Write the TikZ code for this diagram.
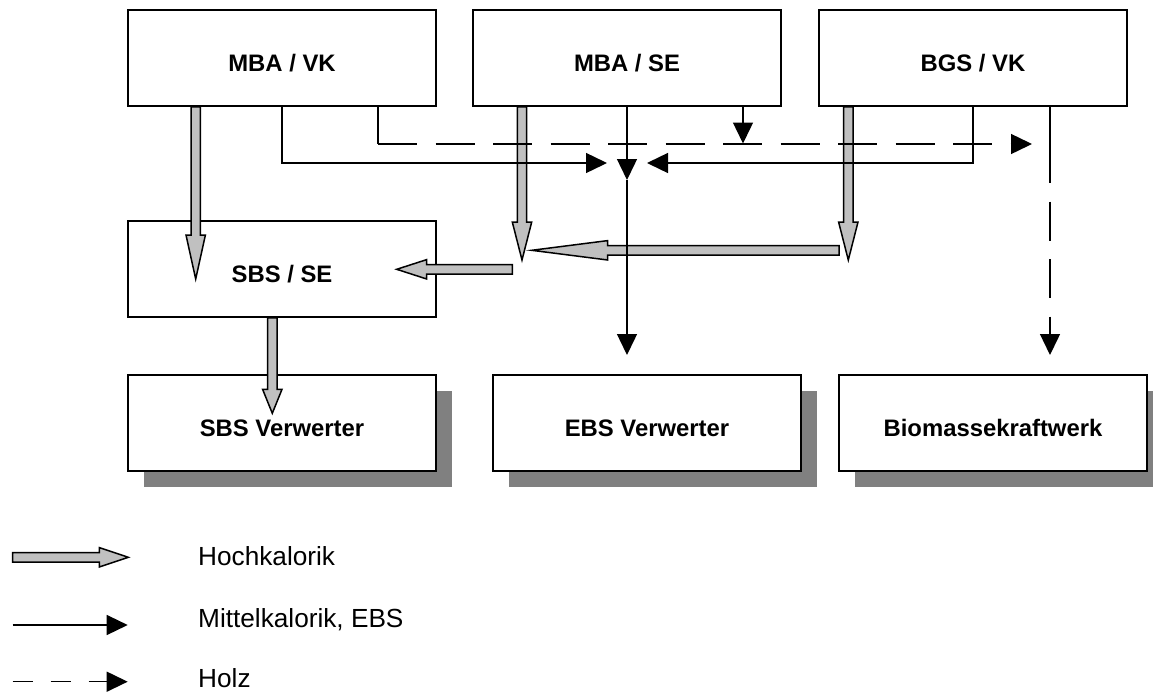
\documentclass[tikz,border=0pt]{standalone}
\usepackage{fontspec}
\setmainfont{Liberation Sans}
\usetikzlibrary{arrows.meta,calc,shadows}

\definecolor{hkgrau}{RGB}{192,192,192}
\definecolor{schatten}{RGB}{128,128,128}

\tikzset{
  anlage/.style={draw, line width=1.8pt, fill=white, minimum width=308pt,
    minimum height=96pt, inner sep=0pt, text height=27pt, text depth=0pt,
    font=\fontsize{23.85}{28}\selectfont\bfseries},
  verwerter/.style={anlage, drop shadow={shadow xshift=16pt, shadow yshift=-16pt,
    opacity=1, fill=schatten}},
  mkpfeil/.style={line width=1.4pt, -{Triangle[length=21pt,width=20pt]}},
  holzpfeil/.style={mkpfeil, dash pattern=on 39pt off 18.5pt},
  hkpfeil/.style={draw, line width=1.5pt, fill=hkgrau, line join=miter},
  legende/.style={anchor=base west, inner sep=0pt, font=\fontsize{26.2}{30}\selectfont}
}

% gray block arrow: start, tip, head length
\newcommand{\hochpfeil}[3]{%
  \draw[hkpfeil] let \p1=(#1), \p2=(#2),
      \n1={veclen(\x2-\x1,\y2-\y1)},
      \n2={(\x2-\x1)/\n1}, \n3={(\y2-\y1)/\n1} in
    ({\x1-4.7pt*(\n3)},{\y1+4.7pt*(\n2)})
    -- ({\x2-#3pt*(\n2)-4.7pt*(\n3)},{\y2-#3pt*(\n3)+4.7pt*(\n2)})
    -- ({\x2-#3pt*(\n2)-9.7pt*(\n3)},{\y2-#3pt*(\n3)+9.7pt*(\n2)})
    -- (\x2,\y2)
    -- ({\x2-#3pt*(\n2)+9.7pt*(\n3)},{\y2-#3pt*(\n3)-9.7pt*(\n2)})
    -- ({\x2-#3pt*(\n2)+4.7pt*(\n3)},{\y2-#3pt*(\n3)-4.7pt*(\n2)})
    -- ({\x1+4.7pt*(\n3)},{\y1-4.7pt*(\n2)}) -- cycle;}

\begin{document}
\begin{tikzpicture}[x=1pt, y=-1pt]
  \useasboundingbox (0,0) rectangle (1153,691);

  % Anlagen
  \node[anlage] (mbavk) at (282,58) {MBA / VK};
  \node[anlage] (mbase) at (627,58) {MBA / SE};
  \node[anlage] (bgsvk) at (973,58) {BGS / VK};
  \node[anlage] (sbsse) at (282,269) {SBS / SE};

  % Verwerter
  \node[verwerter] (sbsverw) at (282,423) {SBS Verwerter};
  \node[verwerter] (ebsverw) at (647,423) {EBS Verwerter};
  \node[verwerter] (biokw) at (993,423) {Biomassekraftwerk};

  % Punkte
  \coordinate (hkvk) at (195.7,279);
  \coordinate (hkse) at (522,260);
  \coordinate (hkbgs) at (848.3,260);
  \coordinate (langA) at (839,250.3);
  \coordinate (langB) at (531.7,250.3);
  \coordinate (kurzA) at (512.3,269.3);
  \coordinate (kurzB) at (396.7,269.3);
  \coordinate (sbsab) at (272.3,413.3);
  \coordinate (mklinks) at (607,163);
  \coordinate (mkrechts) at (647,163);
  \coordinate (sammel) at (627,180);
  \coordinate (ebsein) at (627,355);
  \coordinate (mkklein) at (743,143.5);
  \coordinate (holzknick) at (378,144);
  \coordinate (holzende) at (1032,144);
  \coordinate (bioknick) at (1050,144);
  \coordinate (bioein) at (1050,355);

  % Hochkalorik
  \hochpfeil{[xshift=-86.3pt]mbavk.south}{hkvk}{44}
  \hochpfeil{[xshift=-105pt]mbase.south}{hkse}{38}
  \hochpfeil{[xshift=-124.7pt]bgsvk.south}{hkbgs}{38}
  \hochpfeil{langA}{langB}{76}
  \hochpfeil{kurzA}{kurzB}{30}
  \hochpfeil{[xshift=-9.7pt]sbsse.south}{sbsab}{24}

  % Mittelkalorik, EBS
  \draw[mkpfeil] (mbavk.south) |- (mklinks);
  \draw[mkpfeil] (bgsvk.south) |- (mkrechts);
  \draw[mkpfeil] (mbase.south) -- (sammel);
  \draw[mkpfeil] (sammel) -- (ebsein);
  \draw[mkpfeil] ([xshift=116pt]mbase.south) -- (mkklein);

  % Holz
  \draw[line width=1.4pt] ([xshift=96pt]mbavk.south) -- (holzknick);
  \draw[holzpfeil] (holzknick) -- (holzende);
  \draw[line width=1.4pt] ([xshift=77pt]bgsvk.south) -- (bioknick);
  \draw[holzpfeil] (bioknick) -- (bioein);

  % Legende
  \coordinate (lg1a) at (12.7,557.3);
  \coordinate (lg1b) at (128.3,557.3);
  \coordinate (lg2a) at (12.7,625);
  \coordinate (lg2b) at (127.7,625);
  \coordinate (lg3a) at (12.7,681.7);
  \coordinate (lg3b) at (127.7,681.7);
  \hochpfeil{lg1a}{lg1b}{29}
  \draw[mkpfeil] (lg2a) -- (lg2b);
  \draw[mkpfeil, dash pattern=on 20pt off 18pt] (lg3a) -- (lg3b);
  \node[legende] (lgt1) at (198,565.7) {Hochkalorik};
  \node[legende] (lgt2) at (198,627.7) {Mittelkalorik, EBS};
  \node[legende] (lgt3) at (198,687) {Holz};
\end{tikzpicture}
\end{document}
